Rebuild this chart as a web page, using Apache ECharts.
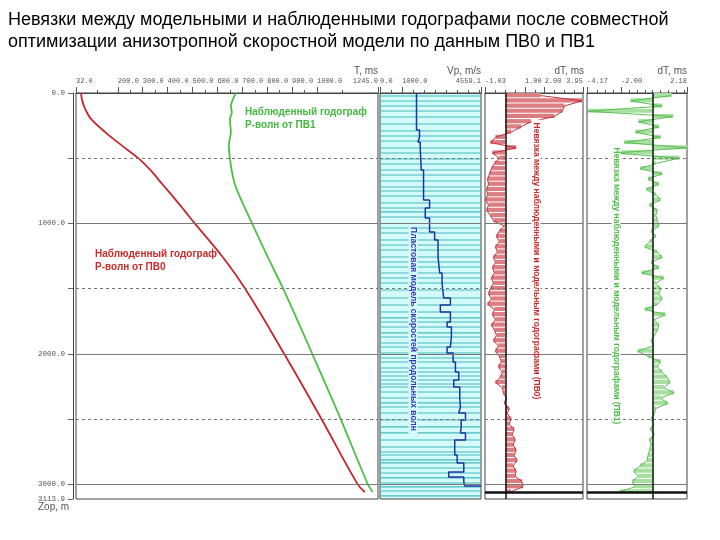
<!DOCTYPE html>
<html>
<head>
<meta charset="utf-8">
<script src="https://cdn.jsdelivr.net/npm/echarts@6/dist/echarts.min.js"></script>
<style>
  html, body { margin: 0; padding: 0; background: #fff; }
  #chart { width: 720px; height: 540px; }
</style>
</head>
<body>
<div id="chart"></div>
<script>
  // наблюденные годографы (глубина, м -> время, мс)
  var depthPV0 = [0, 50, 100, 150, 200, 300, 400, 500, 600, 700, 800, 900, 1000, 1250, 1500, 2000, 2500, 3000, 3060];
  var timePV0 = [52, 56, 64, 76, 93, 149, 214, 282, 335, 379, 424, 467, 509, 618, 711, 868, 1018, 1163, 1192];
  var depthPV1 = [0, 50, 100, 150, 200, 300, 400, 500, 600, 700, 800, 900, 1000, 1250, 1500, 2000, 2500, 3000, 3060];
  var timePV1 = [674, 662, 654, 658, 650, 654, 646, 650, 658, 670, 691, 715, 739, 800, 864, 981, 1095, 1204, 1224];

  // пластовая модель Vp
  var layerTop = [0, 284, 337, 376, 422, 590, 821, 882, 959, 1066, 1127, 1258, 1380, 1457, 1572, 1626, 1679, 1756, 1794, 1871,
    1948, 1994, 2063, 2140, 2201, 2255, 2339, 2408, 2454, 2508, 2561, 2607, 2661, 2776, 2837, 2906, 2945, 2983, 3014];
  var layerVp = [1648, 1784, 1712, 1816, 1861, 1966, 2238, 2043, 2238, 2465, 2620, 2692, 2801, 2874, 3178, 2724, 3178, 3028, 3223, 3178,
    3028, 3300, 3405, 3555, 3328, 3600, 3632, 3555, 3859, 3664, 3632, 3859, 3373, 3482, 3782, 3101, 3782, 3827, 4559.1];
  var boundDepth = [23, 61, 100, 138, 184, 238, 291, 330, 368, 422, 460, 506, 544, 590, 629, 675, 721, 752, 790, 844, 882, 912, 951,
    1035, 1074, 1127, 1166, 1204, 1258, 1296, 1334, 1380, 1419, 1457, 1511, 1572, 1626, 1680, 1725, 1756, 1795, 1840, 1871, 1917,
    1948, 1994, 2032, 2063, 2109, 2140, 2170, 2201, 2232, 2255, 2293, 2339, 2377, 2408, 2454, 2508, 2561, 2607, 2661, 2715, 2753,
    2776, 2814, 2837, 2876, 2914, 2952, 2991, 3021, 3052, 3090];

  // невязки dT, мс
  var dtDepth = [0, 40, 80, 120, 160, 200, 240, 280, 320, 360, 400, 440, 480, 520, 560, 600, 640, 680, 720, 760,
    800, 840, 880, 920, 960, 1000, 1040, 1080, 1120, 1160, 1200, 1240, 1280, 1320, 1360, 1400, 1440, 1480, 1520, 1560,
    1600, 1640, 1680, 1720, 1760, 1800, 1840, 1880, 1920, 1960, 2000, 2040, 2080, 2120, 2160, 2200, 2240, 2280, 2320, 2360,
    2400, 2440, 2480, 2520, 2560, 2600, 2640, 2680, 2720, 2760, 2800, 2840, 2880, 2920, 2960, 3000, 3040];
  var dtEnd = 3075;
  var dtPV0 = [1.8, 3.9, 3.0, 2.9, 2.5, 1.3, 0.8, 0.3, -0.5, -0.75, 0.55, -0.65, -0.3, -0.55, -0.7, -0.8, -0.9, -0.85, -0.95, -0.9,
    -1.0, -0.85, -0.95, -0.75, -0.6, -0.05, -0.3, -0.45, -0.3, -0.5, -0.4, -0.6, -0.5, -0.65, -0.55, -0.7, -0.6, -0.75, -0.85, -0.7,
    -0.9, -0.55, -0.65, -0.5, -0.7, -0.55, -0.45, -0.6, -0.35, -0.5, -0.3, -0.2, -0.35, -0.15, -0.25, -0.5, -0.15, -0.1, 0.05, -0.05,
    0.2, 0.1, 0.3, 0.2, 0.45, 0.35, 0.5, 0.4, 0.55, 0.45, 0.6, 0.4, 0.55, 0.5, 0.85, 0.9, 0.3];
  var dtPV1 = [1.2, -1.4, 0.6, -4.1, 1.3, -0.9, 0.4, -1.1, 0.5, -1.8, 2.2, -2.4, 1.7, 0.2, -0.8, 0.6, -0.3, 0.4, -0.4, 0.2,
    0.5, -0.2, 0.3, 0.2, 0.3, 0.4, -0.1, 0.2, -0.2, -0.5, 0.3, 0.6, -0.1, 0.4, -0.7, 0.7, 0.2, 0.5, 0.4, 0.6,
    0.3, -0.5, 0.8, 0.1, 0.4, 0.3, 0.1, -0.1, 0.05, -0.95, -0.3, 0.5, 0.3, 0.6, 0.9, 1.1, 0.7, 1.35, 0.5, 0.95,
    0.2, 0.1, -0.1, 0.05, -0.15, 0.1, -0.2, -0.1, -0.2, -0.3, -0.35, -0.8, -1.2, -0.9, -1.3, -1.1, -2.1];

  // подписи осей
  var depthLabels = [0, 1000, 2000, 3000, 3113.9];
  var depthTicks = [0, 500, 1000, 1500, 2000, 2500, 3000, 3113.9];
  var solidDepths = [1000, 2000, 3000];
  var dashDepths = [500, 1500, 2500];
  var tLabels = [32, 200, 300, 400, 500, 600, 700, 800, 900, 1000, 1245];
  var tMinor = [116, 250, 350, 450, 550, 650, 750, 850, 950, 1100];
  var vpLabels = [0, 1000, 4559.1];
  var vpMinor = [500, 1500, 2000, 2500, 3000, 3500, 4000, 4500];
  var dt0Labels = [-1.03, 1.00, 2.00, 3.95];
  var dt0Minor = [-0.5, 0, 0.5, 1.5, 2.5, 3, 3.5];
  var dt1Labels = [-4.17, -2.00, 2.18];
  var dt1Minor = [-3.5, -3, -2.5, -1.5, -1, -0.5, 0, 0.5, 1, 1.5, 2];
  var depthMax = 3113.9;

  var chart = echarts.init(document.getElementById('chart'));

  var monoFont = 'Liberation Mono';
  var labelColor = '#555';

  function topAxis(grid, min, max, labels, digits) {
    return {
      type: 'value', gridIndex: grid, position: 'top', min: min, max: max,
      axisLine: { show: true, lineStyle: { color: '#444' } },
      axisTick: { show: true, customValues: labels, length: 6, lineStyle: { color: '#555' } },
      axisLabel: {
        show: true, customValues: labels, margin: 8, align: 'left', alignMaxLabel: 'right',
        fontFamily: monoFont, fontSize: 7, color: labelColor,
        formatter: function (v) { return v.toFixed(digits); }
      },
      splitLine: { show: false }
    };
  }
  function minorAxis(grid, min, max, ticks) {
    return {
      type: 'value', gridIndex: grid, position: 'top', min: min, max: max,
      axisLine: { show: false },
      axisTick: { show: true, customValues: ticks, length: 3, lineStyle: { color: '#555' } },
      axisLabel: { show: false },
      splitLine: { show: false }
    };
  }
  function depthAxis(grid) {
    return {
      type: 'value', gridIndex: grid, inverse: true, min: 0, max: depthMax,
      axisLine: { show: false }, axisTick: { show: false }, axisLabel: { show: false },
      splitLine: { show: false }
    };
  }
  function gridMarks(extra) {
    var data = [];
    solidDepths.forEach(function (d) {
      data.push({ yAxis: d, lineStyle: { color: '#7a7a7a', type: 'solid', width: 1 } });
    });
    dashDepths.forEach(function (d) {
      data.push({ yAxis: d, lineStyle: { color: '#777', type: [3, 3], width: 1 } });
    });
    return { silent: true, symbol: 'none', label: { show: false }, animation: false, data: data.concat(extra || []) };
  }

  // ступенчатая линия Vp
  var vpSteps = [];
  for (var i = 0; i < layerTop.length; i++) {
    vpSteps.push([layerVp[i], layerTop[i]]);
    if (i < layerTop.length - 1) vpSteps.push([layerVp[i], layerTop[i + 1]]);
  }

  function dtBars(values) {
    return dtDepth.map(function (d, i) {
      var next = i + 1 < dtDepth.length ? dtDepth[i + 1] : dtEnd;
      return [d, next, values[i]];
    });
  }
  function dtLine(values) {
    return dtDepth.map(function (d, i) {
      var next = i + 1 < dtDepth.length ? dtDepth[i + 1] : dtEnd;
      return [values[i], (d + next) / 2];
    });
  }
  function barRender(color) {
    return function (params, api) {
      var p0 = api.coord([0, api.value(0)]);
      var p1 = api.coord([api.value(2), api.value(1)]);
      return {
        type: 'rect',
        shape: { x: Math.min(p0[0], p1[0]), y: p0[1], width: Math.abs(p1[0] - p0[0]), height: Math.max(p1[1] - p0[1] - 1, 1) },
        style: { fill: color }
      };
    };
  }

  var zeroAndBottom = [
    { xAxis: 0, lineStyle: { color: '#111', type: 'solid', width: 1.5 } },
    { yAxis: 3060, lineStyle: { color: '#111', type: 'solid', width: 2.5 } }
  ];

  var option = {
    animation: false,
    backgroundColor: '#fff',
    title: {
      text: 'Невязки между модельными и наблюденными годографами после совместной\nоптимизации анизотропной скоростной модели по данным ПВ0 и ПВ1',
      left: 3, top: 4,
      textStyle: { fontFamily: 'Liberation Sans', fontSize: 18, fontWeight: 'normal', color: '#000', lineHeight: 22 }
    },
    grid: [
      { left: 76, top: 93, width: 302, height: 406, show: true, borderColor: '#444', borderWidth: 1 },
      { left: 380, top: 93, width: 101, height: 406, show: true, borderColor: '#444', borderWidth: 1, backgroundColor: '#d4fbfb' },
      { left: 485, top: 93, width: 98, height: 406, show: true, borderColor: '#444', borderWidth: 1 },
      { left: 587, top: 93, width: 100, height: 406, show: true, borderColor: '#444', borderWidth: 1 }
    ],
    xAxis: [
      topAxis(0, 32, 1245, tLabels, 1), minorAxis(0, 32, 1245, tMinor),
      topAxis(1, 0, 4559.1, vpLabels, 1), minorAxis(1, 0, 4559.1, vpMinor),
      topAxis(2, -1.03, 3.95, dt0Labels, 2), minorAxis(2, -1.03, 3.95, dt0Minor),
      topAxis(3, -4.17, 2.18, dt1Labels, 2), minorAxis(3, -4.17, 2.18, dt1Minor)
    ],
    yAxis: [
      {
        type: 'value', gridIndex: 0, inverse: true, min: 0, max: depthMax, offset: 3,
        axisLine: { show: true, lineStyle: { color: '#444' } },
        axisTick: { show: true, customValues: depthTicks, length: 5, lineStyle: { color: '#666' } },
        axisLabel: {
          show: true, customValues: depthLabels, margin: 8, fontFamily: monoFont, fontSize: 7.5, color: labelColor,
          formatter: function (v) { return v.toFixed(1); }
        },
        splitLine: { show: false }
      },
      depthAxis(1), depthAxis(2), depthAxis(3)
    ],
    series: [
      {
        type: 'line', name: 'ПВ0', xAxisIndex: 0, yAxisIndex: 0, showSymbol: false, smooth: 0.4,
        lineStyle: { color: '#c4262c', width: 1.8 },
        data: depthPV0.map(function (d, i) { return [timePV0[i], d]; }),
        markLine: gridMarks()
      },
      {
        type: 'line', name: 'ПВ1', xAxisIndex: 0, yAxisIndex: 0, showSymbol: false, smooth: 0.3,
        lineStyle: { color: '#4cbf46', width: 1.8 },
        data: depthPV1.map(function (d, i) { return [timePV1[i], d]; })
      },
      {
        type: 'custom', xAxisIndex: 2, yAxisIndex: 1, silent: true,
        data: boundDepth,
        renderItem: function (params, api) {
          var a = api.coord([0, api.value(0)]);
          var b = api.coord([4559.1, api.value(0)]);
          return { type: 'line', shape: { x1: a[0], y1: a[1], x2: b[0], y2: b[1] }, style: { stroke: '#48baba', lineWidth: 1.1 } };
        }
      },
      {
        type: 'line', name: 'Vp', xAxisIndex: 2, yAxisIndex: 1, showSymbol: false,
        lineStyle: { color: '#22329e', width: 1.5 },
        data: vpSteps,
        markLine: gridMarks()
      },
      {
        type: 'custom', xAxisIndex: 4, yAxisIndex: 2, silent: true,
        data: dtBars(dtPV0), renderItem: barRender('#dc7d82')
      },
      {
        type: 'line', name: 'dT ПВ0', xAxisIndex: 4, yAxisIndex: 2, showSymbol: false,
        lineStyle: { color: '#c0323a', width: 1 },
        data: dtLine(dtPV0),
        markLine: gridMarks(zeroAndBottom)
      },
      {
        type: 'custom', xAxisIndex: 6, yAxisIndex: 3, silent: true,
        data: dtBars(dtPV1), renderItem: barRender('#a6df9f')
      },
      {
        type: 'line', name: 'dT ПВ1', xAxisIndex: 6, yAxisIndex: 3, showSymbol: false,
        lineStyle: { color: '#5cbf55', width: 1 },
        data: dtLine(dtPV1),
        markLine: gridMarks(zeroAndBottom)
      }
    ],
    graphic: [
      { type: 'text', z: 100, x: 378, y: 71, style: { text: 'T, ms', align: 'right', verticalAlign: 'middle', font: '10px "Liberation Sans"', fill: '#555' } },
      { type: 'text', z: 100, x: 481, y: 71, style: { text: 'Vp, m/s', align: 'right', verticalAlign: 'middle', font: '10px "Liberation Sans"', fill: '#555' } },
      { type: 'text', z: 100, x: 584, y: 71, style: { text: 'dT, ms', align: 'right', verticalAlign: 'middle', font: '10px "Liberation Sans"', fill: '#555' } },
      { type: 'text', z: 100, x: 687, y: 71, style: { text: 'dT, ms', align: 'right', verticalAlign: 'middle', font: '10px "Liberation Sans"', fill: '#555' } },
      { type: 'text', z: 100, x: 38, y: 507, style: { text: 'Zop, m', align: 'left', verticalAlign: 'middle', font: '10px "Liberation Sans"', fill: '#555' } },
      { type: 'text', z: 100, x: 245, y: 119, style: { text: 'Наблюденный годограф\nР-волн от ПВ1', align: 'left', verticalAlign: 'middle', lineHeight: 13, font: 'bold 10px "Liberation Sans"', fill: '#44b840' } },
      { type: 'text', z: 100, x: 95, y: 261, style: { text: 'Наблюденный годограф\nР-волн от ПВ0', align: 'left', verticalAlign: 'middle', lineHeight: 13, font: 'bold 10px "Liberation Sans"', fill: '#cc2a2a' } },
      { type: 'text', z: 100, x: 413, y: 329, rotation: -Math.PI / 2, style: { text: 'Пластовая модель скоростей продольных волн', align: 'center', verticalAlign: 'middle', font: 'bold 8.5px "Liberation Sans"', fill: '#3434c0', backgroundColor: '#d4fbfb', padding: [0, 3] } },
      { type: 'text', z: 100, x: 536, y: 261, rotation: -Math.PI / 2, style: { text: 'Невязка между наблюденными и модельным годографами (ПВ0)', align: 'center', verticalAlign: 'middle', font: 'bold 8.5px "Liberation Sans"', fill: '#cc2a2a', backgroundColor: '#fff', padding: [0, 3] } },
      { type: 'text', z: 100, x: 616, y: 286, rotation: -Math.PI / 2, style: { text: 'Невязка между наблюденными и модельным годографами (ПВ1)', align: 'center', verticalAlign: 'middle', font: 'bold 8.5px "Liberation Sans"', fill: '#4cbf46', backgroundColor: '#fff', padding: [0, 3] } }
    ]
  };

  chart.setOption(option);
</script>
</body>
</html>
